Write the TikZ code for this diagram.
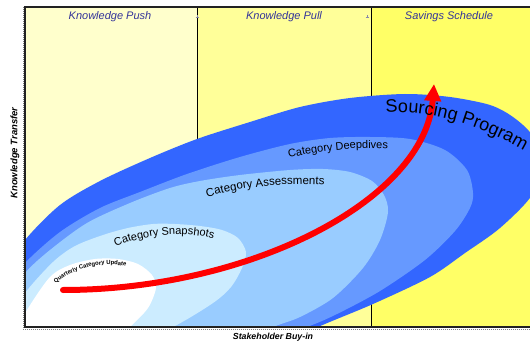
\documentclass[tikz,border=0pt]{standalone}
\usepackage{fontspec}
\setmainfont{Liberation Sans}
\usetikzlibrary{arrows.meta,decorations.text}

\definecolor{colpush}{HTML}{FFFFCC}
\definecolor{colpull}{HTML}{FFFF99}
\definecolor{colsave}{HTML}{FFFF66}
\definecolor{bandA}{HTML}{3366FF}
\definecolor{bandB}{HTML}{6699FF}
\definecolor{bandC}{HTML}{99CCFF}
\definecolor{bandD}{HTML}{CCECFF}
\definecolor{headblue}{HTML}{333399}
\definecolor{framegray}{HTML}{222222}
\definecolor{markgray}{HTML}{8888AA}

\tikzset{
  header/.style={font=\fontsize{11}{13}\selectfont\itshape, text=headblue, inner sep=0pt},
  axislabel/.style={font=\bfseries\itshape, inner sep=0pt},
  divider/.style={line width=1pt, black},
  axisline/.style={line width=1.3pt, framegray},
  axistexture/.style={line width=0.6pt, gray, dash pattern=on 1pt off 1pt},
  progress/.style={line width=6pt, red, line cap=round, -{Triangle[length=17pt,width=16pt]}},
  colmark/.style={line width=0.5pt, markgray},
}

\begin{document}
\begin{tikzpicture}[x=1pt,y=-1pt]
\useasboundingbox (0,0) rectangle (530,342);

% column backgrounds
\fill[colpush] (25,7) rectangle (197,327);
\fill[colpull] (197,7) rectangle (371,327);
\fill[colsave] (371,7) rectangle (530,327);
\draw[divider] (197,7) -- (197,327);
\draw[divider] (371,7) -- (371,327);

% nested programme bands
\begin{scope}
\clip (25,7) rectangle (530,327);
\fill[bandA] plot[smooth cycle] coordinates {
  (541,162) (532,135) (513,117) (490,105) (450,97) (405,94) (350,98)
  (300,107) (250,122) (197,139) (150,158) (100,181) (60,205) (25,240)
  (2,275) (-12,315) (-8,352) (25,378) (100,388) (200,372) (270,350)
  (318,327) (373,304) (430,277) (465,253) (500,228) (532,195)};
\fill[bandB] plot[smooth cycle] coordinates {
  (473,193) (467,170) (445,150) (410,139) (370,137) (330,138) (290,144)
  (240,157) (187,174) (140,192) (100,208) (60,232) (25,263) (5,290)
  (-5,320) (5,350) (40,368) (120,372) (200,360) (262,342) (307,327)
  (337,314) (380,291) (425,260) (455,231) (470,208)};
\fill[bandC] plot[smooth cycle] coordinates {
  (388,212) (384,195) (372,181) (350,172) (323,169) (290,170) (240,175)
  (200,181) (170,188) (130,203) (87,223) (50,250) (25,273) (8,300)
  (2,330) (20,355) (80,365) (160,360) (230,345) (273,327) (300,317)
  (333,298) (363,268) (380,240)};
\fill[bandD] plot[smooth cycle] coordinates {
  (246,252) (238,238) (222,230) (200,226) (175,224) (153,224) (128,228)
  (103,235) (75,246) (53,262) (25,293) (10,320) (15,345) (60,360)
  (120,350) (173,327) (213,303) (231,287) (242,268)};
\fill[white] plot[smooth cycle] coordinates {
  (156,288) (152,275) (138,264) (118,259) (95,259) (70,265) (50,277)
  (27,310) (15,335) (30,355) (70,358) (110,345) (130,327) (148,308)};
\end{scope}

% frame and axes
\draw[axistexture] (23,7) -- (23,329) -- (530,329);
\draw[axisline] (530,7) -- (25,7) -- (25,327) -- (530,327);
\draw[colmark] (195.5,17) -- (198.5,17) (197,15.5) -- (197,18.5);
\draw[colmark] (365.5,17) -- (368.5,17) (367,15.5) -- (367,18.5);

% column headers
\node[header] (push) at (110,17) {Knowledge Push};
\node[header] (pull) at (284,17) {Knowledge Pull};
\node[header] (save) at (449,17) {Savings Schedule};

% axis labels
\node[axislabel, font=\fontsize{9.5}{11}\selectfont\bfseries\itshape, rotate=90] (ylab) at (15,153) {Knowledge Transfer};
\node[axislabel, font=\fontsize{8.8}{11}\selectfont\bfseries\itshape] (xlab) at (273,337) {Stakeholder Buy-in};

% progression arrow
\coordinate (arrowstart) at (63,290);
\coordinate (arrowtip) at (434,84);
\draw[progress] (arrowstart) .. controls (250,290) and (425,200) .. (arrowtip);

% band labels
\path[decorate, decoration={text along path,
  text={|\fontsize{18}{20}\selectfont|Sourcing Program}}]
  (386,113) .. controls (432,108) and (497,129) .. (552,169);
\path[decorate, decoration={text along path, text align=center,
  text={|\fontsize{11}{13}\selectfont|Category Deepdives}}]
  (275,161) .. controls (315,151) and (360,145) .. (402,150);
\path[decorate, decoration={text along path, text align=center,
  text={|\fontsize{11.5}{13}\selectfont|Category Assessments}}]
  (195,201) .. controls (235,187) and (285,181) .. (337,186);
\path[decorate, decoration={text along path, text align=center,
  text={|\fontsize{11}{13}\selectfont|Category Snapshots}}]
  (100,255) .. controls (135,233) and (195,227) .. (230,245);
\path[decorate, decoration={text along path,
  text={|\fontsize{5.9}{7}\selectfont\bfseries|Quarterly Category Update}}]
  (56,284) .. controls (72,268) and (105,258) .. (140,270);
\end{tikzpicture}
\end{document}
